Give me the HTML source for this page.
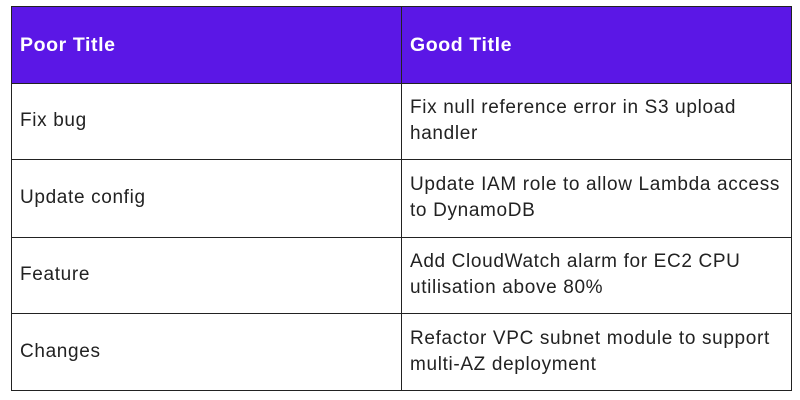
<!DOCTYPE html>
<html><head><style>
body{margin:0;width:800px;height:400px;background:#fff;font-family:"Liberation Sans",sans-serif;position:relative;overflow:hidden}
.b{position:absolute;background:#222}
.t{position:absolute;font-size:19px;letter-spacing:0.65px;color:#222;line-height:26px;white-space:nowrap}
.h{position:absolute;font-size:19.5px;letter-spacing:0.6px;color:#fff;font-weight:bold}
</style></head><body>
<div style="position:absolute;left:11px;top:6px;width:781px;height:77px;background:#5b17e6"></div>
<div class="b" style="left:11px;top:6px;width:781px;height:1px"></div>
<div class="b" style="left:11px;top:83px;width:781px;height:1px"></div>
<div class="b" style="left:11px;top:159px;width:781px;height:1px"></div>
<div class="b" style="left:11px;top:237px;width:781px;height:1px"></div>
<div class="b" style="left:11px;top:313px;width:781px;height:1px"></div>
<div class="b" style="left:11px;top:390px;width:781px;height:1px"></div>
<div class="b" style="left:11px;top:6px;width:1px;height:385px"></div>
<div class="b" style="left:401px;top:6px;width:1px;height:385px"></div>
<div class="b" style="left:791px;top:6px;width:1px;height:385px"></div>
<div class="h" style="left:20px;top:34px">Poor Title</div>
<div class="h" style="left:410px;top:34px">Good Title</div>
<div class="t" style="left:20px;top:108px">Fix bug</div>
<div class="t" style="left:410px;top:95px">Fix null reference error in S3 upload<br>handler</div>
<div class="t" style="left:20px;top:185px">Update config</div>
<div class="t" style="left:410px;top:172px">Update IAM role to allow Lambda access<br>to DynamoDB</div>
<div class="t" style="left:20px;top:262px">Feature</div>
<div class="t" style="left:410px;top:249px">Add CloudWatch alarm for EC2 CPU<br>utilisation above 80%</div>
<div class="t" style="left:20px;top:339px">Changes</div>
<div class="t" style="left:410px;top:326px">Refactor VPC subnet module to support<br>multi-AZ deployment</div>
</body></html>
